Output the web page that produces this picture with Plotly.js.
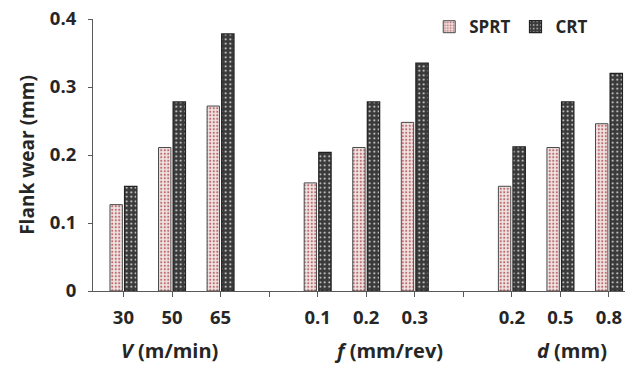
<!DOCTYPE html>
<html>
<head>
<meta charset="utf-8">
<script src="https://cdn.plot.ly/plotly-3.0.1.min.js"></script>
<style>html,body{margin:0;padding:0;background:#fff;}#chart{width:625px;height:366px;}</style>
</head>
<body>
<div id="chart"></div>
<script>
// Data
const categories = ['30', '50', '65', '', '0.1', '0.2', '0.3', '', '0.2', '0.5', '0.8'];
const sprt = [0.127, 0.211, 0.272, null, 0.159, 0.211, 0.248, null, 0.154, 0.211, 0.246];
const crt  = [0.154, 0.278, 0.378, null, 0.204, 0.278, 0.335, null, 0.212, 0.278, 0.320];
const seriesNames = ['SPRT', 'CRT'];
const groupTitles = ['<i>V</i> (m/min)', '<i>f</i> (mm/rev)', '<i>d</i> (mm)'];
const groupCenters = [1, 5, 9];
const yTicks = [0, 0.1, 0.2, 0.3, 0.4];
const yTickText = ['0', '0.1', '0.2', '0.3', '0.4'];

const xIdx = categories.map((_, i) => i);
const FONT = 'Open Sans, Noto Sans, sans-serif';
const TXT = '#262626';

const traces = [
  {
    type: 'bar', name: seriesNames[0], x: xIdx, y: sprt,
    marker: {
      color: '#efe4e4',
      line: {color: '#4a4a4a', width: 1},
      pattern: {shape: '.', fgcolor: '#c06a6a', bgcolor: '#efe4e4', size: 3.5, solidity: 0.3}
    },
    hoverinfo: 'skip'
  },
  {
    type: 'bar', name: seriesNames[1], x: xIdx, y: crt,
    marker: {
      color: '#3a3a3a',
      line: {color: '#222222', width: 1.2},
      pattern: {shape: '.', fgcolor: '#eeeeee', bgcolor: '#3a3a3a', size: 4.5, solidity: 0.15}
    },
    hoverinfo: 'skip'
  }
];

const annotations = groupTitles.map((t, i) => ({
  text: t, x: groupCenters[i], xref: 'x', y: -0.218, yref: 'paper',
  yanchor: 'middle', xanchor: 'center', showarrow: false,
  xshift: [-3, 22, 12][i],
  font: {family: FONT, size: 20, color: TXT, weight: 'bold'}
}));

const layout = {
  width: 625, height: 366,
  margin: {l: 93, r: 0, t: 19, b: 75},
  paper_bgcolor: '#ffffff', plot_bgcolor: '#ffffff',
  barmode: 'group', bargap: 0.4, bargroupgap: 0.15,
  showlegend: true,
  legend: {
    orientation: 'h', x: 0.632, xanchor: 'left', y: 0.97, yanchor: 'middle',
    font: {family: FONT, size: 17, color: TXT, weight: 'bold'},
    itemwidth: 30, bgcolor: 'rgba(0,0,0,0)'
  },
  xaxis: {
    range: [-0.627, 10.33],
    tickmode: 'array', tickvals: xIdx, ticktext: categories,
    ticks: 'outside', ticklen: 5, tickcolor: '#595959', tickwidth: 1,
    showline: true, linecolor: '#595959', linewidth: 1,
    showgrid: false, zeroline: false,
    tickfont: {family: FONT, size: 18.5, color: TXT, weight: 'bold'},
    ticklabelstandoff: 5
  },
  yaxis: {
    range: [0, 0.4],
    tickmode: 'array', tickvals: yTicks, ticktext: yTickText,
    ticks: 'outside', ticklen: 4, tickcolor: '#595959', tickwidth: 1,
    showline: true, linecolor: '#595959', linewidth: 1,
    showgrid: false, zeroline: false,
    tickfont: {family: FONT, size: 18.5, color: TXT, weight: 'bold'},
    ticklabelstandoff: 8,
    title: {text: 'Flank wear (mm)', standoff: 10,
            font: {family: FONT, size: 19, color: TXT, weight: 'bold'}}
  },
  annotations: annotations
};

Plotly.newPlot('chart', traces, layout, {staticPlot: true, displayModeBar: false});
</script>
</body>
</html>
